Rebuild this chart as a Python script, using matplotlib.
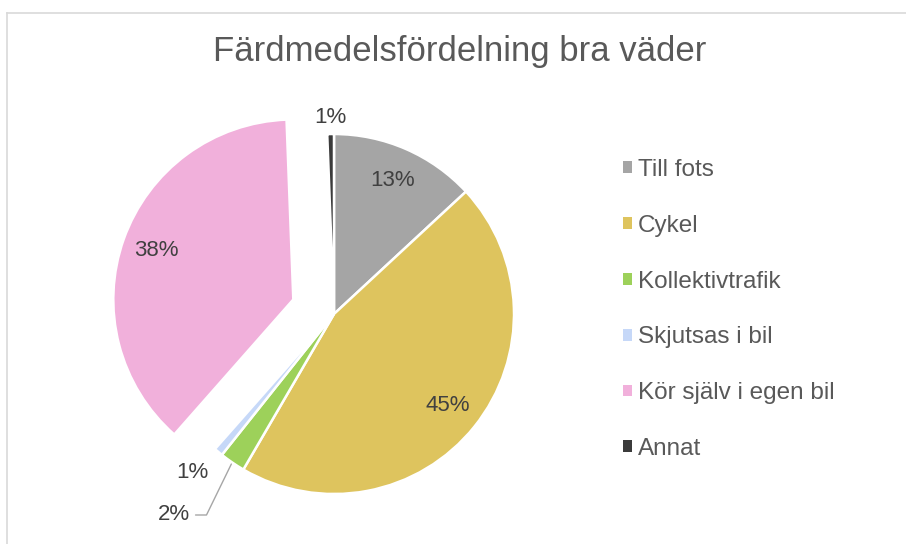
"""Pie chart: Färdmedelsfördelning bra väder."""

import matplotlib

matplotlib.use("Agg")
import matplotlib.pyplot as plt
import numpy as np
from matplotlib.lines import Line2D
from matplotlib.patches import Patch

categories = [
    "Till fots",
    "Cykel",
    "Kollektivtrafik",
    "Skjutsas i bil",
    "Kör själv i egen bil",
    "Annat",
]
shares = [13.1, 45.3, 2.3, 0.8, 37.9, 0.6]
colors = ["#A5A5A5", "#DEC45E", "#9DD15A", "#C6D8F8", "#F1B0DB", "#3B3B3B"]
explode = [0, 0, 0, 0, 0.24, 0]

W, H = 906, 544
CX, CY, R = 334, 314, 180  # pie centre / radius in pixels

plt.rcParams["font.family"] = ["Liberation Sans", "DejaVu Sans"]

fig = plt.figure(figsize=(W / 100, H / 100), dpi=100)
ax = fig.add_axes([0, 0, 1, 1])

wedges, texts, autotexts = ax.pie(
    shares,
    colors=colors,
    explode=explode,
    startangle=90,
    counterclock=False,
    radius=1.0,
    autopct="%1.0f%%",
    pctdistance=0.81,
    wedgeprops=dict(edgecolor="white", linewidth=1.8),
    textprops=dict(fontsize=16, color="#404040"),
)
ax.set_xlim(-CX / R, (W - CX) / R)
ax.set_ylim(-(H - CY) / R, CY / R)
ax.set_aspect("equal")
ax.axis("off")

# small slices get their labels outside
mid = {}
cum = 0.0
for name, s in zip(categories, shares):
    mid[name] = np.deg2rad(90 - (cum + s / 2) * 3.6)
    cum += s

a = mid["Annat"]
autotexts[5].set_position((1.09 * np.cos(a), 1.09 * np.sin(a)))
a = mid["Skjutsas i bil"]
autotexts[3].set_position((1.19 * np.cos(a) - 0.02, 1.19 * np.sin(a) + 0.03))

a = mid["Kollektivtrafik"]
autotexts[2].set_visible(False)
ax.annotate(
    autotexts[2].get_text(),
    xy=(1.01 * np.cos(a), 1.01 * np.sin(a)),
    xytext=((190 - CX) / R, (CY - 515) / R),
    ha="right",
    va="center",
    fontsize=16,
    color="#404040",
    arrowprops=dict(
        arrowstyle="-",
        color="#A6A6A6",
        lw=1.0,
        shrinkA=2,
        shrinkB=0,
        connectionstyle="angle,angleA=0,angleB=64,rad=0",
    ),
)

fig.text(
    460 / W,
    1 - 52 / H,
    "Färdmedelsfördelning bra väder",
    ha="center",
    va="center",
    fontsize=25,
    color="#595959",
)

handles = [Patch(facecolor=c, edgecolor="none") for c in colors]
fig.legend(
    handles,
    categories,
    loc="upper left",
    bbox_to_anchor=(623 / W, 1 - 159 / H),
    frameon=False,
    fontsize=17.5,
    labelcolor="#595959",
    handlelength=0.37,
    handleheight=0.37,
    handletextpad=0.25,
    labelspacing=1.39,
    borderpad=0,
    borderaxespad=0,
)

# chart-area frame (only top and left edges are visible)
fig.add_artist(Line2D([6.5 / W, 1], [1 - 12.5 / H] * 2, color="#D9D9D9", lw=1.2))
fig.add_artist(Line2D([6.5 / W] * 2, [0, 1 - 12.5 / H], color="#D9D9D9", lw=1.2))

fig.savefig("out.png", dpi=100, facecolor="white")
